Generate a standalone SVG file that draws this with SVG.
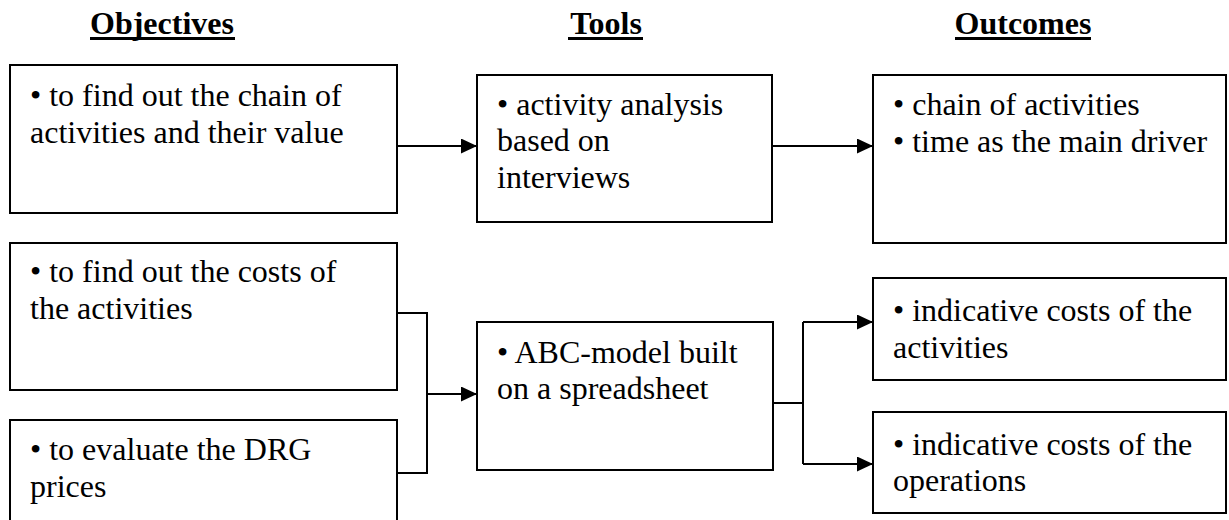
<svg xmlns="http://www.w3.org/2000/svg" width="1229" height="520" viewBox="0 0 1229 520">
<style>
.box{fill:#fff;stroke:#000;stroke-width:2}
.t{font-family:'Liberation Serif','Times New Roman',serif;font-size:32px;fill:#000}
.h{font-family:'Liberation Serif','Times New Roman',serif;font-size:32px;font-weight:bold;fill:#000;text-anchor:middle}
.c{fill:none;stroke:#000;stroke-width:2}
</style>
<defs>
<marker id="arr" markerUnits="userSpaceOnUse" markerWidth="16" markerHeight="15" refX="16" refY="7.5" orient="auto">
<path d="M0,0 L16,7.5 L0,15 z" fill="#000"/>
</marker>
</defs>
<rect width="1229" height="520" fill="#fff"/>
<g id="headings">
<text class="h" x="162" y="34">Objectives</text>
<rect x="90" y="37" width="145" height="3" fill="#000"/>
<text class="h" x="606" y="34">Tools</text>
<rect x="568" y="37" width="75" height="3" fill="#000"/>
<text class="h" x="1023" y="34">Outcomes</text>
<rect x="955" y="37" width="136" height="3" fill="#000"/>
</g>
<g id="connectors">
<path class="c" d="M397,146 H477" marker-end="url(#arr)"/>
<path class="c" d="M772,146 H873" marker-end="url(#arr)"/>
<path class="c" d="M397,313 H427 V473 H397"/>
<path class="c" d="M427,394 H477" marker-end="url(#arr)"/>
<path class="c" d="M773,403 H803"/>
<path class="c" d="M803,322 V464"/>
<path class="c" d="M803,322 H873" marker-end="url(#arr)"/>
<path class="c" d="M803,464 H873" marker-end="url(#arr)"/>
</g>
<g id="obj1">
<rect class="box" x="10" y="65" width="387" height="148"/>
<text class="t" x="30" y="106">• to find out the chain of</text>
<text class="t" x="30" y="143">activities and their value</text>
</g>
<g id="obj2">
<rect class="box" x="10" y="243" width="387" height="147"/>
<text class="t" x="30" y="282">• to find out the costs of</text>
<text class="t" x="30" y="319">the activities</text>
</g>
<g id="obj3">
<rect class="box" x="10" y="420" width="387" height="104"/>
<text class="t" x="30" y="460">• to evaluate the DRG</text>
<text class="t" x="30" y="497">prices</text>
</g>
<g id="tool1">
<rect class="box" x="477" y="75" width="295" height="147"/>
<text class="t" x="497" y="115">• activity analysis</text>
<text class="t" x="497" y="151">based on</text>
<text class="t" x="497" y="188">interviews</text>
</g>
<g id="tool2">
<rect class="box" x="477" y="322" width="296" height="148"/>
<text class="t" x="497" y="363">• ABC-model built</text>
<text class="t" x="497" y="399">on a spreadsheet</text>
</g>
<g id="out1">
<rect class="box" x="873" y="75" width="353" height="168"/>
<text class="t" x="893" y="115">• chain of activities</text>
<text class="t" x="893" y="152">• time as the main driver</text>
</g>
<g id="out2">
<rect class="box" x="873" y="278" width="353" height="102"/>
<text class="t" x="893" y="321">• indicative costs of the</text>
<text class="t" x="893" y="358">activities</text>
</g>
<g id="out3">
<rect class="box" x="873" y="412" width="353" height="101"/>
<text class="t" x="893" y="455">• indicative costs of the</text>
<text class="t" x="893" y="491">operations</text>
</g>
</svg>
